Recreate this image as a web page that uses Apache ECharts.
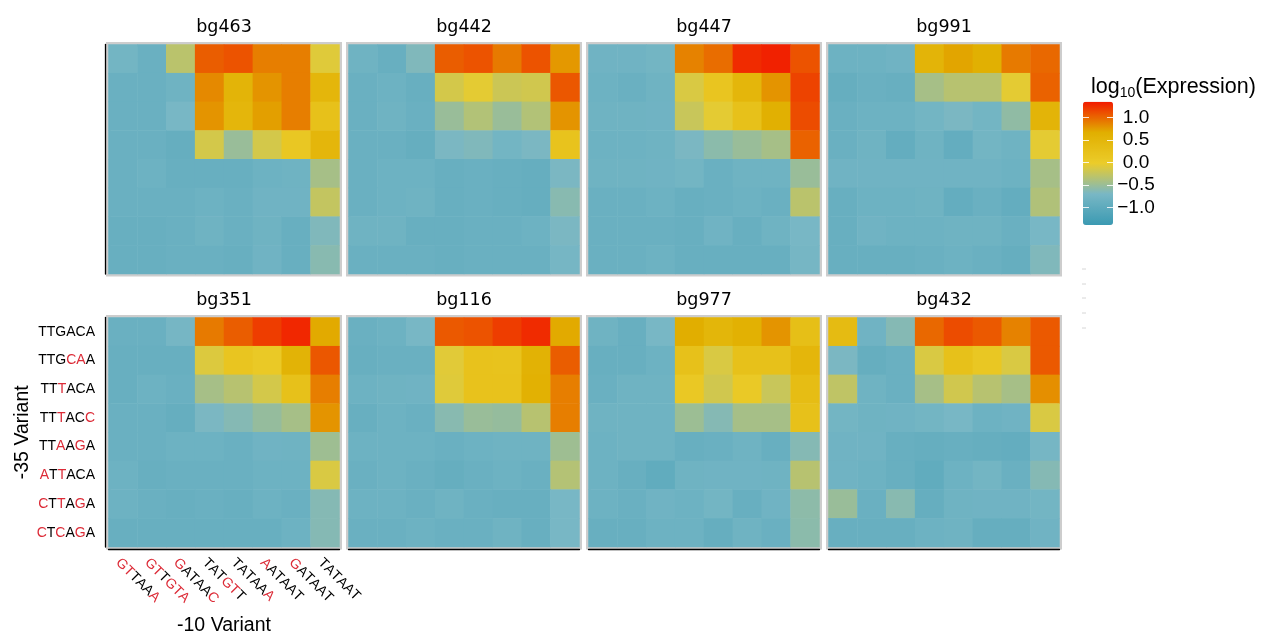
<!DOCTYPE html>
<html><head><meta charset="utf-8">
<script src="https://cdn.jsdelivr.net/npm/echarts@6/dist/echarts.min.js"></script>
<style>html,body{margin:0;padding:0;background:#fff}#c{width:1264px;height:637px}</style>
</head><body><div id="c"></div>
<script>
// ---- data ----
const minus35 = ['TTGACA','TTGCAA','TTTACA','TTTACC','TTAAGA','ATTACA','CTTAGA','CTCAGA'];
const minus10 = ['GTTAAA','GTTGTA','GATAAC','TATGTT','TATAAA','AATAAT','GATAAT','TATAAT'];
const wt35 = 'TTGACA';
const wt10 = 'TATAAT';
const panelNames = ['bg463','bg442','bg447','bg991','bg351','bg116','bg977','bg432'];
const legendBreaks = [-1.0, -0.5, 0.0, 0.5, 1.0];
const colorLimits = [-1.38, 1.36];

const bg463 = [
 [-0.75,-0.85,-0.3,1.05,1.1,0.9,0.9,-0.08],
 [-0.85,-0.85,-0.8,0.85,0.55,0.8,0.9,0.5],
 [-0.85,-0.85,-0.7,0.8,0.5,0.75,0.9,0.25],
 [-0.85,-0.85,-0.9,-0.15,-0.5,-0.15,0.1,0.5],
 [-0.85,-0.82,-0.88,-0.88,-0.88,-0.82,-0.8,-0.42],
 [-0.85,-0.85,-0.85,-0.82,-0.85,-0.78,-0.78,-0.25],
 [-0.88,-0.88,-0.85,-0.8,-0.85,-0.8,-0.88,-0.65],
 [-0.88,-0.88,-0.85,-0.85,-0.88,-0.78,-0.88,-0.6]];
const bg442 = [
 [-0.8,-0.88,-0.65,1.05,1.1,0.92,1.1,0.78],
 [-0.85,-0.82,-0.88,-0.15,-0.05,-0.2,-0.17,1.08],
 [-0.85,-0.8,-0.85,-0.5,-0.35,-0.5,-0.35,0.8],
 [-0.85,-0.85,-0.9,-0.68,-0.65,-0.75,-0.68,0.2],
 [-0.85,-0.82,-0.82,-0.88,-0.85,-0.88,-0.9,-0.68],
 [-0.85,-0.82,-0.8,-0.88,-0.85,-0.88,-0.9,-0.6],
 [-0.8,-0.8,-0.88,-0.88,-0.85,-0.85,-0.82,-0.68],
 [-0.85,-0.85,-0.85,-0.88,-0.85,-0.85,-0.85,-0.72]];
const bg447 = [
 [-0.78,-0.78,-0.75,0.88,0.98,1.28,1.33,1.1],
 [-0.82,-0.85,-0.8,-0.12,0.15,0.5,0.8,1.17],
 [-0.8,-0.8,-0.78,-0.22,-0.05,0.25,0.65,1.13],
 [-0.82,-0.82,-0.8,-0.68,-0.58,-0.5,-0.42,1.03],
 [-0.8,-0.8,-0.78,-0.75,-0.85,-0.8,-0.8,-0.5],
 [-0.85,-0.85,-0.82,-0.88,-0.85,-0.82,-0.85,-0.3],
 [-0.85,-0.85,-0.85,-0.88,-0.78,-0.88,-0.8,-0.7],
 [-0.85,-0.85,-0.82,-0.88,-0.88,-0.88,-0.88,-0.72]];
const bg991 = [
 [-0.82,-0.82,-0.78,0.55,0.72,0.65,0.92,1.0],
 [-0.9,-0.85,-0.88,-0.42,-0.32,-0.32,-0.05,1.03],
 [-0.85,-0.82,-0.82,-0.75,-0.68,-0.75,-0.55,0.55],
 [-0.85,-0.8,-0.92,-0.8,-0.92,-0.75,-0.8,-0.05],
 [-0.78,-0.78,-0.78,-0.78,-0.78,-0.78,-0.82,-0.42],
 [-0.88,-0.82,-0.82,-0.8,-0.92,-0.85,-0.92,-0.36],
 [-0.88,-0.78,-0.82,-0.82,-0.8,-0.8,-0.85,-0.7],
 [-0.88,-0.88,-0.88,-0.85,-0.82,-0.85,-0.9,-0.65]];
const bg351 = [
 [-0.85,-0.85,-0.72,0.92,1.05,1.2,1.3,0.7],
 [-0.88,-0.88,-0.88,-0.1,0.15,0.05,0.58,1.08],
 [-0.88,-0.82,-0.85,-0.42,-0.32,-0.15,0.25,0.9],
 [-0.85,-0.85,-0.9,-0.68,-0.62,-0.52,-0.42,0.8],
 [-0.85,-0.85,-0.82,-0.82,-0.85,-0.78,-0.8,-0.47],
 [-0.82,-0.88,-0.85,-0.85,-0.85,-0.82,-0.82,-0.12],
 [-0.82,-0.85,-0.88,-0.85,-0.88,-0.82,-0.85,-0.62],
 [-0.88,-0.88,-0.88,-0.88,-0.88,-0.88,-0.82,-0.62]];
const bg116 = [
 [-0.85,-0.82,-0.7,1.07,1.1,1.2,1.28,0.7],
 [-0.88,-0.85,-0.85,-0.07,0.22,0.2,0.6,1.05],
 [-0.82,-0.8,-0.78,-0.08,0.22,0.22,0.62,0.9],
 [-0.88,-0.82,-0.85,-0.6,-0.5,-0.52,-0.32,0.9],
 [-0.82,-0.82,-0.82,-0.85,-0.82,-0.8,-0.8,-0.47],
 [-0.85,-0.82,-0.85,-0.9,-0.85,-0.82,-0.85,-0.34],
 [-0.82,-0.82,-0.85,-0.8,-0.85,-0.88,-0.88,-0.7],
 [-0.85,-0.85,-0.82,-0.85,-0.85,-0.8,-0.88,-0.7]];
const bg977 = [
 [-0.8,-0.88,-0.7,0.68,0.52,0.62,0.8,0.3],
 [-0.88,-0.88,-0.82,0.25,-0.12,0.25,0.25,0.5],
 [-0.85,-0.8,-0.8,0.08,-0.17,0.05,-0.22,0.35],
 [-0.8,-0.8,-0.8,-0.48,-0.62,-0.42,-0.42,0.25],
 [-0.82,-0.8,-0.8,-0.88,-0.85,-0.8,-0.88,-0.62],
 [-0.82,-0.88,-0.95,-0.8,-0.78,-0.78,-0.8,-0.32],
 [-0.82,-0.85,-0.78,-0.82,-0.75,-0.88,-0.78,-0.57],
 [-0.88,-0.88,-0.82,-0.82,-0.9,-0.8,-0.85,-0.58]];
const bg432 = [
 [0.38,-0.78,-0.62,1.0,1.13,1.07,0.88,1.07],
 [-0.68,-0.9,-0.85,-0.12,0.25,0.1,-0.12,1.07],
 [-0.27,-0.8,-0.85,-0.42,-0.17,-0.32,-0.42,0.82],
 [-0.75,-0.8,-0.78,-0.75,-0.7,-0.82,-0.78,-0.12],
 [-0.78,-0.78,-0.88,-0.9,-0.88,-0.9,-0.92,-0.72],
 [-0.78,-0.82,-0.88,-0.95,-0.82,-0.75,-0.85,-0.62],
 [-0.5,-0.85,-0.6,-0.9,-0.8,-0.78,-0.78,-0.75],
 [-0.88,-0.88,-0.88,-0.82,-0.8,-0.9,-0.9,-0.78]];
const panelValues = [bg463, bg442, bg447, bg991, bg351, bg116, bg977, bg432];

// ---- styling / layout ----
const palette = ['#3B9AB2','#78B7C5','#EBCC2A','#E1AF00','#F21A00'];
const RED = '#dc2b37';
const colLeft = [108.5, 348.5, 588.5, 828.5];
const rowTop = [44.5, 317.5];
const PW = 231, PH = 229.5;
const tickFont = '"Liberation Sans", Arial, sans-serif';
const titleFont = '"DejaVu Sans", sans-serif';

function richLabel(seq, wt) {
  return seq.split('').map((ch, i) => (ch === wt[i] ? '{k|' + ch + '}' : '{r|' + ch + '}')).join('');
}
function richStyles(size) {
  return {
    k: { color: '#000', fontSize: size, fontFamily: tickFont },
    r: { color: RED, fontSize: size, fontFamily: tickFont }
  };
}

const grids = [], xAxes = [], yAxes = [], series = [], titles = [];
panelValues.forEach((vals, p) => {
  const r = Math.floor(p / 4), c = p % 4;
  const isLabelPanel = (p === 4);
  grids.push({
    left: colLeft[c], top: rowTop[r], width: PW, height: PH,
    show: true, borderColor: '#cdcdcd', borderWidth: 5, backgroundColor: 'transparent'
  });
  xAxes.push({
    type: 'category', gridIndex: p, data: minus10, position: 'bottom',
    offset: r === 1 ? 2.5 : 0,
    axisLine: { show: r === 1, lineStyle: { color: '#000', width: 1.3 } },
    axisTick: { show: false }, splitLine: { show: false },
    axisLabel: {
      show: isLabelPanel, rotate: -45, margin: 6, verticalAlign: 'top', interval: 0,
      formatter: v => richLabel(v, wt10), rich: richStyles(14)
    },
    name: isLabelPanel ? '-10 Variant' : '', nameLocation: 'middle', nameGap: 66,
    nameTextStyle: { fontSize: 19.5, color: '#000', fontFamily: tickFont }
  });
  yAxes.push({
    type: 'category', gridIndex: p, data: minus35, inverse: true,
    offset: c === 0 ? 3 : 0,
    axisLine: { show: c === 0, lineStyle: { color: '#000', width: 1.3 } },
    axisTick: { show: false }, splitLine: { show: false },
    axisLabel: {
      show: isLabelPanel, margin: 10.5, interval: 0,
      formatter: v => richLabel(v, wt35), rich: richStyles(14)
    },
    name: isLabelPanel ? '-35 Variant' : '', nameLocation: 'middle', nameGap: 70,
    nameTextStyle: { fontSize: 19.5, color: '#000', fontFamily: tickFont }
  });
  const data = [];
  vals.forEach((row, i) => row.forEach((v, j) => data.push([j, i, v])));
  series.push({
    type: 'heatmap', xAxisIndex: p, yAxisIndex: p, data: data,
    itemStyle: { borderWidth: 0 }, emphasis: { disabled: true }, silent: true
  });
  titles.push({
    text: panelNames[p], left: colLeft[c] + PW / 2, top: rowTop[r] - 26, textAlign: 'center', padding: 0,
    textStyle: { fontSize: 17.5, fontWeight: 'normal', color: '#000', fontFamily: titleFont }
  });
});

// legend axis grid (labels/ticks over the colour bar)
const LB_TOP = 117.7, LB_H = 90;
grids.push({ left: 1083, top: LB_TOP, width: 30, height: LB_H, show: false });
xAxes.push({ type: 'value', gridIndex: 8, show: false });
const legTick = { show: true, inside: true, length: 6, lineStyle: { color: 'rgba(255,255,255,0.85)', width: 1 } };
yAxes.push({
  type: 'value', gridIndex: 8, position: 'left', z: 10,
  min: legendBreaks[0], max: legendBreaks[legendBreaks.length - 1], interval: legendBreaks[1] - legendBreaks[0],
  axisLine: { show: false }, axisTick: legTick, axisLabel: { show: false }, splitLine: { show: false }
});
yAxes.push({
  type: 'value', gridIndex: 8, position: 'right', z: 10,
  min: legendBreaks[0], max: legendBreaks[legendBreaks.length - 1], interval: legendBreaks[1] - legendBreaks[0],
  axisLine: { show: false }, axisTick: legTick, splitLine: { show: false },
  axisLabel: {
    show: true, margin: 23, align: 'center', fontSize: 19, color: '#000', fontFamily: tickFont,
    formatter: v => (v < 0 ? '\u2212' : '') + Math.abs(v).toFixed(1)
  }
});

const chart = echarts.init(document.getElementById('c'), null, { renderer: 'canvas' });
chart.setOption({
  animation: false,
  backgroundColor: '#fff',
  title: titles,
  grid: grids,
  xAxis: xAxes,
  yAxis: yAxes,
  visualMap: {
    type: 'continuous', min: colorLimits[0], max: colorLimits[1],
    inRange: { color: palette }, seriesIndex: [0,1,2,3,4,5,6,7],
    orient: 'vertical', left: 1083, top: 101.7, itemWidth: 30, itemHeight: 123.3,
    calculable: false, hoverLink: false, padding: 0, text: null, show: true, z: 4
  },
  graphic: [
    {
      type: 'text', left: 1091, top: 76, silent: true,
      style: {
        text: '{b|log}{s|10}{b|(Expression)}',
        rich: {
          b: { fontSize: 21.5, fontFamily: tickFont, color: '#000', lineHeight: 24, verticalAlign: 'top' },
          s: { fontSize: 14, fontFamily: tickFont, color: '#000', lineHeight: 24, verticalAlign: 'bottom', padding: [10, 0, 0, 0] }
        }
      }
    },
    ...[269, 284, 298, 313, 328].map(y => ({
      type: 'line', silent: true, shape: { x1: 1082, y1: y, x2: 1086, y2: y },
      style: { stroke: '#d6d6d6', lineWidth: 1 }
    }))
  ],
  series: series
});
</script>
</body></html>
